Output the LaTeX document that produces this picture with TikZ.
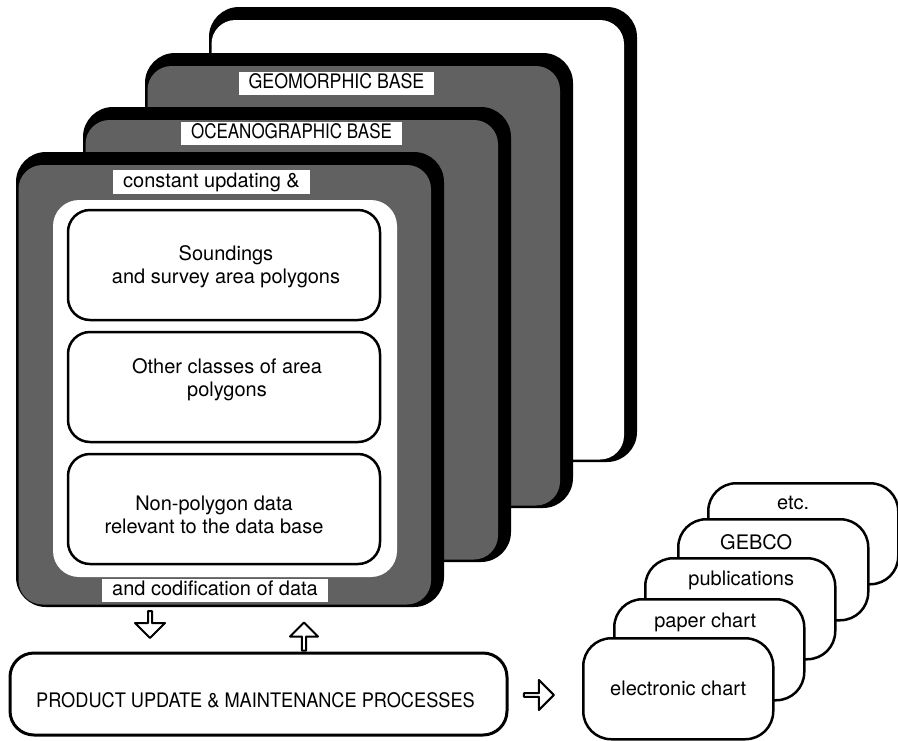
\documentclass[tikz,border=0pt]{standalone}
\usepackage{fontspec}
\setmainfont{TeX Gyre Heros}
\usetikzlibrary{shapes.arrows}
\colorlet{stip}{black!62}
\newcommand{\tightcaps}[2][0.87]{\scalebox{#1}[1]{#2}}
\tikzset{
 tag/.style={fill=white, inner xsep=10pt, inner ysep=2pt, text height=15pt, text depth=4.5pt},
 inbox/.style={draw, line width=2.5pt, rounded corners=22pt, fill=white, minimum width=312pt, minimum height=110pt},
 card/.style={draw, line width=2.5pt, rounded corners=28pt, fill=white, minimum width=190pt, minimum height=101pt, anchor=north west},
 hollow/.style={draw, line width=2pt, single arrow, single arrow tip angle=90, inner sep=0pt, fill=white}
}
\begin{document}
\begin{tikzpicture}[x=1pt, y=-1pt, font=\fontsize{20}{23}\selectfont, line join=round, line cap=round]
\useasboundingbox (0,0) rectangle (898,740);
% Vẽ 4 lớp nền chồng lên nhau
\foreach \x/\y/\c in {209/7/white, 145/53/stip, 83/107/stip, 16/152/stip}{
 \fill[black, rounded corners=30pt] (\x,\y) rectangle ++(428,455);
 \fill[\c, rounded corners=24pt] (\x+2.5,\y+13) rectangle (\x+415,\y+452.5);
}
\fill[white, rounded corners=26pt] (53,200) rectangle (397,577);
% Nhãn trên các lớp
\node[tag] (geo) at (336.5,83.5) {\tightcaps[0.89]{GEOMORPHIC BASE}};
\node[tag] (ocean) at (291.5,133.5) {\tightcaps[0.85]{OCEANOGRAPHIC BASE}};
\node[tag] (upd) at (211.5,182) {constant updating \&};
\node[tag] (codif) at (215,590.5) {and codification of data};
% Ba hộp dữ liệu bên trong
\node[inbox] (snd) at (224,265) {};
\node[align=center] (sndtxt) at (226,266.5) {Soundings\\and survey area polygons};
\node[inbox] (oth) at (224,387) {};
\node[align=center] (othtxt) at (227,380) {Other classes of area\\polygons};
\node[inbox] (non) at (224,509) {};
\node[align=center] (nontxt) at (214,515) {Non-polygon data\\relevant to the data base};
% Hộp quy trình + mũi tên rỗng
\node[draw, line width=3pt, rounded corners=24pt, minimum width=497pt, minimum height=82pt] (product) at (258.5,694) {};
\node (prodtxt) at ([xshift=-3pt, yshift=-6pt]product.center) {\tightcaps[0.91]{PRODUCT UPDATE \& MAINTENANCE PROCESSES}};
\node[hollow, minimum height=27pt, minimum width=30pt, single arrow head extend=6.5pt, rotate=-90] (down) at (150,623.5) {};
\node[hollow, minimum height=28pt, minimum width=28pt, single arrow head extend=5.5pt, rotate=90, anchor=tail] (up) at (product.north -| 304,0) {};
\node[hollow, minimum height=30pt, minimum width=30pt, single arrow head extend=7.5pt] (right) at (538,695) {};
% Các sản phẩm
\foreach \nm/\tx/\lx/\ty/\dx/\dy in {etc/etc./707/482/-10/21, gebco/GEBCO/677/518/-17/24, publ/publications/644/557/1/23, paper/paper chart/613/598/-4/24, elec/electronic chart/582/637/0/51}{
 \node[card] (\nm) at (\lx,\ty) {};
 \node (\nm-l) at ([xshift=\dx pt, yshift=-\dy pt]\nm.north) {\tx};
}
\end{tikzpicture}
\end{document}
